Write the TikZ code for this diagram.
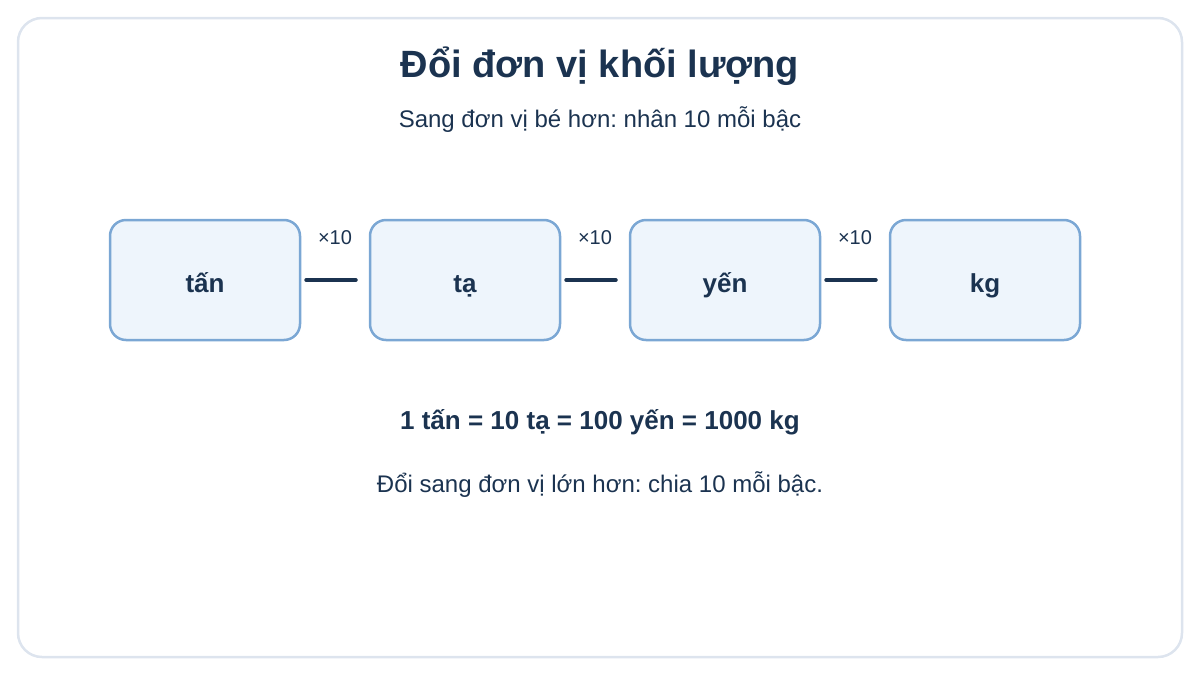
\documentclass[tikz,border=0pt]{standalone}
\usepackage{fontspec}
\setmainfont{Liberation Sans}
\frenchspacing
\definecolor{ink}{HTML}{1B3350}
\definecolor{boxfill}{HTML}{EEF5FC}
\definecolor{boxline}{HTML}{7BA7D4}
\definecolor{frame}{HTML}{DDE4EE}
\begin{document}
\begin{tikzpicture}[x=1pt,y=-1pt,
  unitbox/.style={draw=boxline,line width=2.5pt,fill=boxfill,rounded corners=16pt,minimum width=190pt,minimum height=120pt,text=ink,font=\fontsize{26}{30}\selectfont\bfseries,text height=24pt,text depth=0pt},
  link/.style={draw=ink,line width=4pt,line cap=round},
  factor/.style={text=ink,font=\fontsize{20}{24}\selectfont}]
\useasboundingbox (0,0) rectangle (1200,675);
\draw[frame,line width=2.5pt,rounded corners=24pt] (18,18) rectangle (1182,657);
\node[text=ink,font=\fontsize{38}{44}\selectfont\bfseries] (title) at (600,66) {Đổi đơn vị khối lượng};
\node[text=ink,font=\fontsize{24}{28}\selectfont] (sub) at (600,120) {Sang đơn vị bé hơn: nhân 10 mỗi bậc};
\node[unitbox] (b1) at (205,280) {tấn};
\node[unitbox] (b2) at (465,280) {tạ};
\node[unitbox] (b3) at (725,280) {yến};
\node[unitbox] (b4) at (985,280) {kg};
\draw[link] ([xshift=5pt]b1.east) -- ([xshift=-13pt]b2.west) coordinate[pos=0.5] (m1);
\draw[link] ([xshift=5pt]b2.east) -- ([xshift=-13pt]b3.west) coordinate[pos=0.5] (m2);
\draw[link] ([xshift=5pt]b3.east) -- ([xshift=-13pt]b4.west) coordinate[pos=0.5] (m3);
\node[factor] (f1) at ([xshift=4pt,yshift=42pt]m1) {×10};
\node[factor] (f2) at ([xshift=4pt,yshift=42pt]m2) {×10};
\node[factor] (f3) at ([xshift=4pt,yshift=42pt]m3) {×10};
\node[text=ink,font=\fontsize{26}{30}\selectfont\bfseries] (eq) at (600,422) {1 tấn = 10 tạ = 100 yến = 1000 kg};
\node[text=ink,font=\fontsize{24}{28}\selectfont] (note) at (600,485) {Đổi sang đơn vị lớn hơn: chia 10 mỗi bậc.};
\end{tikzpicture}
\end{document}
